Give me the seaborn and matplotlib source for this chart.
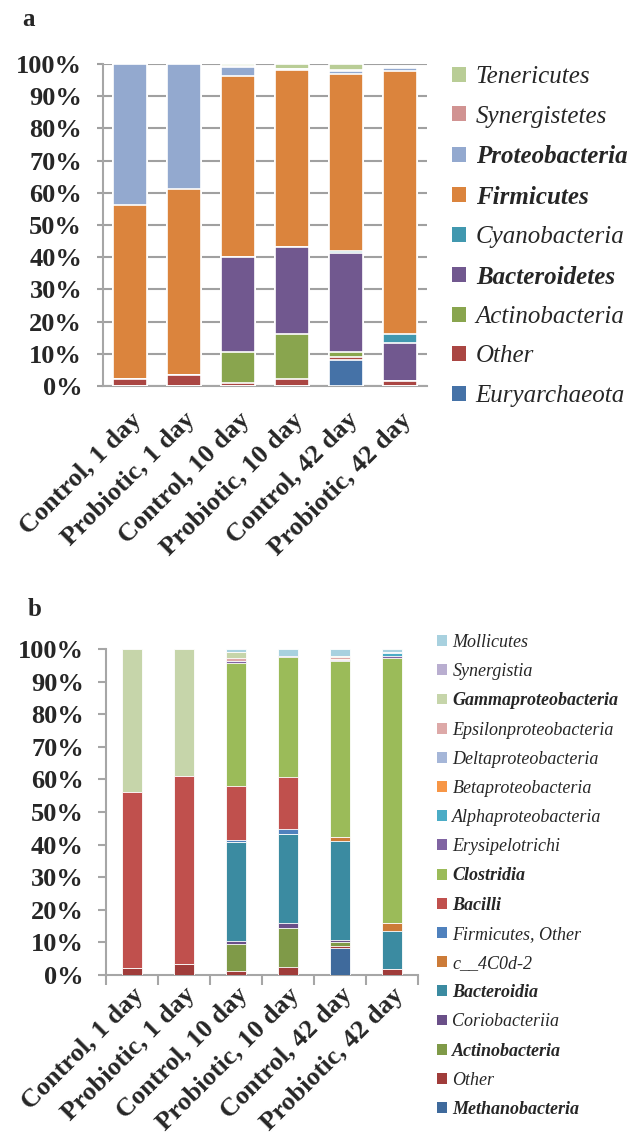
import numpy as np
import pandas as pd
import matplotlib
matplotlib.use("Agg")
import matplotlib.pyplot as plt
import matplotlib.transforms as mtransforms
from matplotlib import font_manager as fm
from matplotlib.patches import Patch
import seaborn as sns

# ---- samples -------------------------------------------------------------
samples = ["Control, 1 day", "Probiotic, 1 day", "Control, 10 day",
           "Probiotic, 10 day", "Control, 42 day", "Probiotic, 42 day"]

# ---- panel a: phylum level relative abundance (%) ------------------------
euryarchaeota = [0.0, 0.0, 0.0, 0.0, 8.1, 0.0]
other_a = [2.1, 3.3, 1.0, 2.3, 0.9, 1.7]
actinobacteria_a = [0.0, 0.0, 9.7, 13.8, 1.7, 0.0]
bacteroidetes = [0.0, 0.0, 29.5, 27.0, 30.5, 11.8]
cyanobacteria = [0.0, 0.0, 0.0, 0.0, 0.8, 2.6]
firmicutes = [54.1, 57.8, 56.1, 54.9, 54.8, 81.8]
proteobacteria = [43.8, 38.9, 2.7, 0.5, 0.9, 0.8]
synergistetes = [0.0, 0.0, 0.3, 0.0, 0.3, 0.2]
tenericutes = [0.0, 0.0, 0.7, 1.5, 2.0, 0.3]

phyla = ["Euryarchaeota", "Other", "Actinobacteria", "Bacteroidetes",
         "Cyanobacteria", "Firmicutes", "Proteobacteria", "Synergistetes",
         "Tenericutes"]
phyla_bold = {"Bacteroidetes", "Firmicutes", "Proteobacteria"}
phyla_colors = ["#4572A7", "#AA4643", "#89A54E", "#71588F", "#4198AF",
                "#DB843D", "#93A9CF", "#D19392", "#B9CD96"]

# ---- panel b: class level relative abundance (%) -------------------------
methanobacteria = [0.0, 0.0, 0.0, 0.0, 8.2, 0.0]
other_b = [2.1, 3.3, 1.1, 2.4, 0.8, 1.8]
actinobacteria_b = [0.0, 0.0, 8.3, 12.1, 1.0, 0.0]
coriobacteriia = [0.0, 0.0, 1.1, 1.5, 0.7, 0.0]
bacteroidia = [0.0, 0.0, 30.4, 27.2, 30.5, 11.7]
c_4c0d_2 = [0.0, 0.0, 0.0, 0.0, 1.2, 2.5]
firmicutes_other = [0.0, 0.0, 0.5, 1.5, 0.0, 0.0]
bacilli = [53.9, 57.7, 16.6, 16.1, 0.0, 0.0]
clostridia = [0.0, 0.0, 37.6, 36.8, 54.0, 81.3]
erysipelotrichi = [0.0, 0.0, 0.7, 0.4, 0.3, 0.6]
alphaproteobacteria = [0.0, 0.0, 0.0, 0.0, 0.0, 0.8]
betaproteobacteria = [0.0, 0.0, 0.0, 0.0, 0.2, 0.0]
deltaproteobacteria = [0.0, 0.0, 0.0, 0.0, 0.0, 0.3]
epsilonproteobacteria = [0.0, 0.0, 0.9, 0.0, 0.5, 0.2]
gammaproteobacteria = [44.0, 39.0, 1.8, 0.0, 0.3, 0.0]
synergistia = [0.0, 0.0, 0.0, 0.0, 0.0, 0.0]
mollicutes = [0.0, 0.0, 1.0, 2.0, 2.3, 0.8]

classes = ["Methanobacteria", "Other", "Actinobacteria", "Coriobacteriia",
           "Bacteroidia", "c__4C0d-2", "Firmicutes, Other", "Bacilli",
           "Clostridia", "Erysipelotrichi", "Alphaproteobacteria",
           "Betaproteobacteria", "Deltaproteobacteria",
           "Epsilonproteobacteria", "Gammaproteobacteria", "Synergistia",
           "Mollicutes"]
classes_bold = {"Methanobacteria", "Actinobacteria", "Bacteroidia",
                "Bacilli", "Clostridia", "Gammaproteobacteria"}
classes_colors = ["#3F6A9C", "#A03C3A", "#7F9A48", "#6A4F88", "#3B8BA1",
                  "#CC7B38", "#4F81BD", "#C0504D", "#9BBB59", "#8064A2",
                  "#4BACC6", "#F79646", "#A5B6D8", "#DDA9A8", "#C6D5AA",
                  "#B9AED0", "#A8D1DF"]

series_a = [euryarchaeota, other_a, actinobacteria_a, bacteroidetes,
            cyanobacteria, firmicutes, proteobacteria, synergistetes,
            tenericutes]
series_b = [methanobacteria, other_b, actinobacteria_b, coriobacteriia,
            bacteroidia, c_4c0d_2, firmicutes_other, bacilli, clostridia,
            erysipelotrichi, alphaproteobacteria, betaproteobacteria,
            deltaproteobacteria, epsilonproteobacteria, gammaproteobacteria,
            synergistia, mollicutes]

sns.set_style("white")
plt.rcParams["font.family"] = ["Liberation Serif", "DejaVu Serif"]


def serif_font(style, size):
    """FontProperties for a Liberation Serif face, loaded from its file."""
    wanted = {"regular": "LiberationSerif-Regular",
              "bold": "LiberationSerif-Bold",
              "italic": "LiberationSerif-Italic",
              "bolditalic": "LiberationSerif-BoldItalic"}[style]
    for path in fm.findSystemFonts():
        if path.split("/")[-1].startswith(wanted + "."):
            return fm.FontProperties(fname=path, size=size)
    fp = fm.FontProperties(family="Liberation Serif", size=size)
    if "bold" in style:
        fp.set_weight("bold")
    if "italic" in style:
        fp.set_style("italic")
    return fp


def stacked_long(names, series):
    """Long table with the cumulative top of each stacked segment."""
    tops = np.cumsum(np.array(series, dtype=float), axis=0)
    rows = []
    for name, top in zip(names, tops):
        for s, t in zip(samples, top):
            rows.append({"sample": s, "taxon": name, "top": t})
    return pd.DataFrame(rows)


def draw_stack(ax, names, series, colors, width, edge_lw):
    df = stacked_long(names, series)
    # draw from the highest cumulative level down so each segment shows
    for name, color in reversed(list(zip(names, colors))):
        sub = df[df["taxon"] == name]
        sns.barplot(data=sub, x="sample", y="top", order=samples,
                    color=color, width=width, saturation=1, ax=ax,
                    edgecolor="white", linewidth=edge_lw, errorbar=None,
                    zorder=3)


def style_axis(ax, fig, tick_size, dx):
    ax.set_ylim(0, 100)
    ax.set_xlim(-0.5, len(samples) - 0.5)
    ax.set_yticks(np.arange(0, 101, 10))
    ax.set_yticklabels([f"{v}%" for v in range(0, 101, 10)],
                       fontproperties=serif_font("bold", tick_size))
    ax.set_xticks(range(len(samples)))
    ax.set_xticklabels(samples, rotation=45, ha="right", va="top",
                       rotation_mode="anchor",
                       fontproperties=serif_font("bold", tick_size))
    shift = mtransforms.ScaledTranslation(dx / 100, 0, fig.dpi_scale_trans)
    for lbl in ax.get_xticklabels():
        lbl.set_transform(lbl.get_transform() + shift)
    ax.set_xlabel("")
    ax.set_ylabel("")
    for side in ("top", "right"):
        ax.spines[side].set_visible(False)
    for side in ("left", "bottom"):
        ax.spines[side].set_color("#A6A6A6")
        ax.spines[side].set_linewidth(1.5)


def add_legend(fig, names, colors, bold, anchor, fontsize, spacing, pad):
    handles = [Patch(facecolor=c, edgecolor="none") for c in colors]
    leg = fig.legend(handles[::-1], names[::-1], loc="upper left",
                     bbox_to_anchor=anchor, frameon=False,
                     prop=serif_font("italic", fontsize),
                     handlelength=0.55, handleheight=0.55,
                     handletextpad=pad, labelspacing=spacing,
                     borderaxespad=0, borderpad=0)
    for txt in leg.get_texts():
        if txt.get_text() in bold:
            txt.set_fontproperties(serif_font("bolditalic", fontsize))
    return leg


fig = plt.figure(figsize=(6.30, 11.43), dpi=100)

# ---- panel a -------------------------------------------------------------
ax_a = fig.add_axes([103 / 630, 1 - 386 / 1143, 324 / 630, 322 / 1143])
draw_stack(ax_a, phyla, series_a, phyla_colors, width=0.63, edge_lw=1.2)
style_axis(ax_a, fig, 19, -6)
ax_a.yaxis.grid(True, color="#A0A0A0", linewidth=1.5, zorder=0)
ax_a.set_axisbelow(True)
ax_a.tick_params(axis="y", which="major", direction="out", length=4,
                 color="#A0A0A0", width=1.5, pad=11, left=True)
ax_a.tick_params(axis="x", which="major", length=0, pad=16)
fig.text(22 / 630, 1 - 20 / 1143, "a",
         fontproperties=serif_font("bold", 18), ha="left", va="center")
add_legend(fig, phyla, phyla_colors, phyla_bold,
           (452 / 630, 1 - 66 / 1143), 18, 0.70, 0.4)

# ---- panel b -------------------------------------------------------------
ax_b = fig.add_axes([106 / 630, 1 - 975 / 1143, 312 / 630, 326 / 1143])
draw_stack(ax_b, classes, series_b, classes_colors, width=0.40, edge_lw=0.6)
style_axis(ax_b, fig, 19, -3)
ax_b.tick_params(axis="y", which="major", direction="out", length=6,
                 color="#A6A6A6", width=1.5, pad=10, left=True)
ax_b.tick_params(axis="x", which="major", length=0, pad=6)
ax_b.set_xticks(np.arange(-0.5, len(samples), 1.0), minor=True)
ax_b.tick_params(axis="x", which="minor", direction="out", length=7,
                 color="#A6A6A6", width=1.5, bottom=True)
fig.text(28 / 630, 1 - 610 / 1143, "b",
         fontproperties=serif_font("bold", 18), ha="left", va="center")
add_legend(fig, classes, classes_colors, classes_bold,
           (437 / 630, 1 - 634 / 1143), 13, 0.675, 0.3)

fig.savefig("out.png", dpi=100)
